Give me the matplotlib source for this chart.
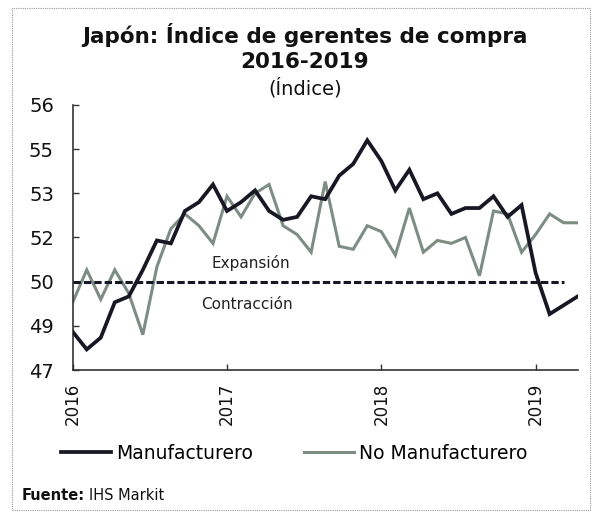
import matplotlib
matplotlib.use("Agg")
import matplotlib.pyplot as plt
from matplotlib.patches import Rectangle
from matplotlib.ticker import FuncFormatter
import numpy as np

# monthly PMI, Apr 2016 - Apr 2019
manufacturero = [48.3, 47.7, 48.1, 49.3, 49.5, 50.4, 51.4, 51.3, 52.4, 52.7,
                 53.3, 52.4, 52.7, 53.1, 52.4, 52.1, 52.2, 52.9, 52.8, 53.6,
                 54.0, 54.8, 54.1, 53.1, 53.8, 52.8, 53.0, 52.3, 52.5, 52.5,
                 52.9, 52.2, 52.6, 50.3, 48.9, 49.2, 49.5]
no_manufacturero = [49.3, 50.4, 49.4, 50.4, 49.6, 48.2, 50.5, 51.8, 52.3, 51.9,
                    51.3, 52.9, 52.2, 53.0, 53.3, 51.9, 51.6, 51.0, 53.4, 51.2,
                    51.1, 51.9, 51.7, 50.9, 52.5, 51.0, 51.4, 51.3, 51.5, 50.2,
                    52.4, 52.3, 51.0, 51.6, 52.3, 52.0, 52.0]
umbral = [50.0] * 36
year_ticks = [0, 11, 22, 33]
year_labels = ["2016", "2017", "2018", "2019"]
y_ticks = [47, 48.5, 50, 51.5, 53, 54.5, 56]

plt.rcParams["font.family"] = ["DejaVu Sans"]

fig = plt.figure(figsize=(5.92, 5.12), dpi=100)
ax = fig.add_axes([0.1228, 0.2773, 0.853, 0.5177])

x = np.arange(len(manufacturero))
ax.plot(x, manufacturero, color="#181824", lw=2.7, label="Manufacturero",
        solid_joinstyle="miter", zorder=3)
ax.plot(x, no_manufacturero, color="#7d8d84", lw=2.2, label="No Manufacturero",
        solid_joinstyle="miter", zorder=2)
ax.plot(np.arange(len(umbral)), umbral, color="#181824", lw=2.2,
        dashes=(2.4, 1.0), zorder=4)

ax.text(12.7, 50.63, "Expansión", ha="center", va="center", fontsize=11, color="#222")
ax.text(12.4, 49.22, "Contracción", ha="center", va="center", fontsize=11, color="#222")

ax.set_xlim(0, 36)
ax.set_ylim(47, 56)
ax.set_yticks(y_ticks)
ax.yaxis.set_major_formatter(FuncFormatter(lambda v, _: f"{int(np.floor(v + 0.5))}"))
ax.set_xticks(year_ticks)
ax.set_xticklabels(year_labels, rotation=90)
ax.tick_params(axis="both", direction="in", length=4, width=1, colors="#333",
               labelcolor="#111")
ax.tick_params(axis="y", pad=13.5, labelsize=14)
ax.tick_params(axis="x", pad=9, labelsize=12)
for s in ("top", "right"):
    ax.spines[s].set_visible(False)
for s in ("left", "bottom"):
    ax.spines[s].set_color("#333")
    ax.spines[s].set_linewidth(1.2)

fig.text(0.515, 0.932, "Japón: Índice de gerentes de compra", ha="center",
         va="center", fontsize=15.5, fontweight="bold", color="#111")
fig.text(0.515, 0.879, "2016-2019", ha="center", va="center", fontsize=15.5,
         fontweight="bold", color="#111")
fig.text(0.515, 0.828, "(Índice)", ha="center", va="center", fontsize=14, color="#111")

fig.legend(loc="center", bbox_to_anchor=(0.497, 0.115), ncol=2, frameon=False,
           fontsize=13.5, handlelength=2.67, handletextpad=0.3, columnspacing=2.7)

src = fig.text(0.037, 0.033, "Fuente:", ha="left", va="center", fontsize=10.5,
               fontweight="bold", color="#111")
fig.canvas.draw()
bb = src.get_window_extent(fig.canvas.get_renderer())
fig.text(bb.x1 / fig.bbox.width + 0.007, 0.033, "IHS Markit", ha="left",
         va="center", fontsize=10.5, color="#111")

fig.patches.append(Rectangle((0.02, 0.004), 0.977, 0.98, transform=fig.transFigure,
                             fill=False, ec="#999", lw=0.8, ls=(0, (1, 1))))

fig.savefig("out.png", dpi=100)
